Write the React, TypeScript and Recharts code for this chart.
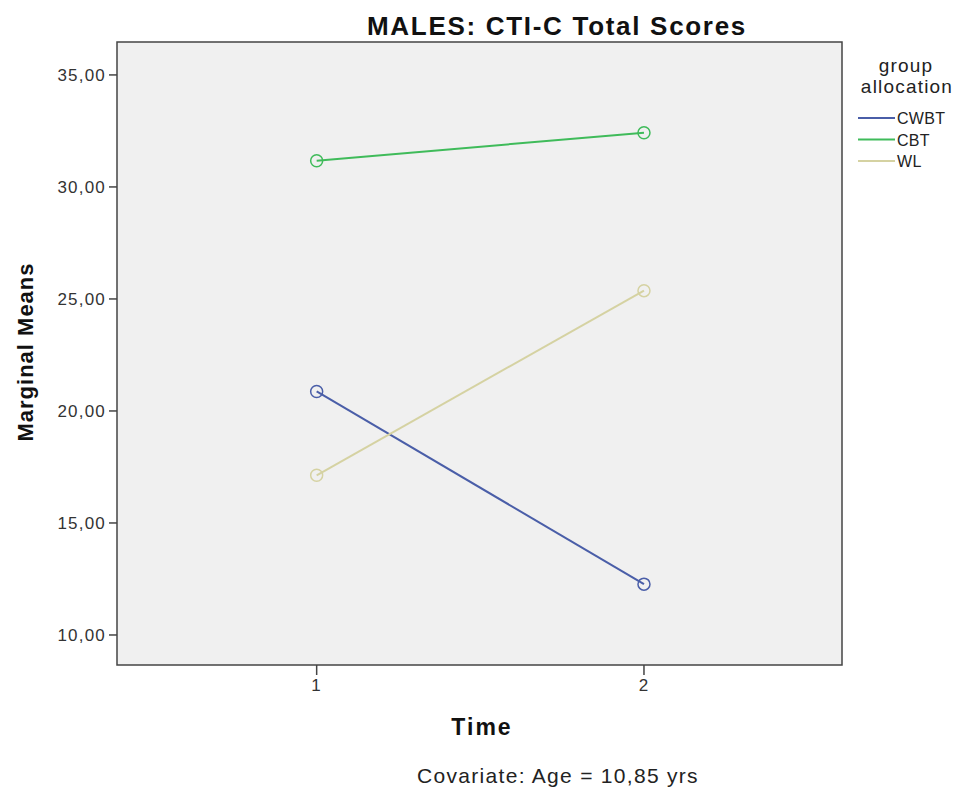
import { LineChart, Line, XAxis, YAxis, ReferenceArea } from 'recharts';

// estimated marginal means per group at each time point
const times = [1, 2];
const cwbt = [20.87, 12.27];
const cbt = [31.17, 32.42];
const wl = [17.13, 25.37];
const yTicks = [10, 15, 20, 25, 30, 35];
const xTicks = [1, 2];

const groups = [
    { key: 'cwbt', name: 'CWBT', color: '#4a5ea8' },
    { key: 'cbt', name: 'CBT', color: '#3fbb5a' },
    { key: 'wl', name: 'WL', color: '#d5d2a2' },
];

const data = times.map((t, i) => ({ time: t, cwbt: cwbt[i], cbt: cbt[i], wl: wl[i] }));

const X_DOMAIN: [number, number] = [0.39, 2.605];
const Y_DOMAIN: [number, number] = [8.66, 36.47];

const font = 'Liberation Sans, Arial, sans-serif';

const fmt = (v: number) => v.toFixed(2).replace('.', ',');

const tickStyle = { fill: '#333', fontSize: 17, fontFamily: font, letterSpacing: 1.2 };

// legend drawn straight into the svg, to the right of the plot frame
const LegendSvg = () => (
    <g fontFamily={font} fill="#222">
        <text x={906} y={72} textAnchor="middle" fontSize={19} letterSpacing={1.2}>group</text>
        <text x={907} y={93} textAnchor="middle" fontSize={19} letterSpacing={1.2}>allocation</text>
        {groups.map((g, i) => (
            <g key={g.key}>
                <line x1={858} x2={895} y1={118 + i * 21.5} y2={118 + i * 21.5} stroke={g.color} strokeWidth={2} />
                <text x={897} y={124 + i * 21.5} fontSize={16} letterSpacing={0.3}>{g.name}</text>
            </g>
        ))}
    </g>
);

export default function App() {
    return (
        <div style={{ position: 'absolute', left: 0, top: 0, width: 962, height: 793, background: '#fff' }}>
            <LineChart width={962} height={793} data={data} margin={{ top: 42, left: 57, right: 120, bottom: 98 }}>
                <ReferenceArea
                    x1={X_DOMAIN[0]} x2={X_DOMAIN[1]} y1={Y_DOMAIN[0]} y2={Y_DOMAIN[1]}
                    fill="#f0f0f0" fillOpacity={1} stroke="#444" strokeWidth={1.5}
                />
                <XAxis
                    dataKey="time" type="number" domain={X_DOMAIN} ticks={xTicks} height={30}
                    axisLine={false} tickLine={{ stroke: '#444', strokeWidth: 1.5 }} tickSize={10} tickMargin={4}
                    tick={tickStyle}
                />
                <YAxis
                    type="number" domain={Y_DOMAIN} ticks={yTicks} tickFormatter={fmt} width={60}
                    axisLine={false} tickLine={{ stroke: '#444', strokeWidth: 1.5 }} tickSize={8} tickMargin={3}
                    tick={tickStyle}
                />
                {groups.map(g => (
                    <Line
                        key={g.key} dataKey={g.key} name={g.name} stroke={g.color} strokeWidth={2}
                        dot={{ r: 6, stroke: g.color, strokeWidth: 1.5, fill: 'none' }}
                        activeDot={false} isAnimationActive={false}
                    />
                ))}
                <LegendSvg />
                <text x={557} y={35} textAnchor="middle" fontFamily={font} fontWeight="bold" fontSize={26} letterSpacing={1.7} fill="#111">
                    MALES: CTI-C Total Scores
                </text>
                <text x={0} y={0} transform="translate(33,352) rotate(-90)" textAnchor="middle" fontFamily={font} fontWeight="bold" fontSize={22} letterSpacing={1} fill="#111">
                    Marginal Means
                </text>
                <text x={482} y={735} textAnchor="middle" fontFamily={font} fontWeight="bold" fontSize={23} letterSpacing={2} fill="#111">
                    Time
                </text>
                <text x={558} y={783} textAnchor="middle" fontFamily={font} fontSize={21} letterSpacing={1.3} fill="#222">
                    Covariate: Age = 10,85 yrs
                </text>
            </LineChart>
        </div>
    );
}
